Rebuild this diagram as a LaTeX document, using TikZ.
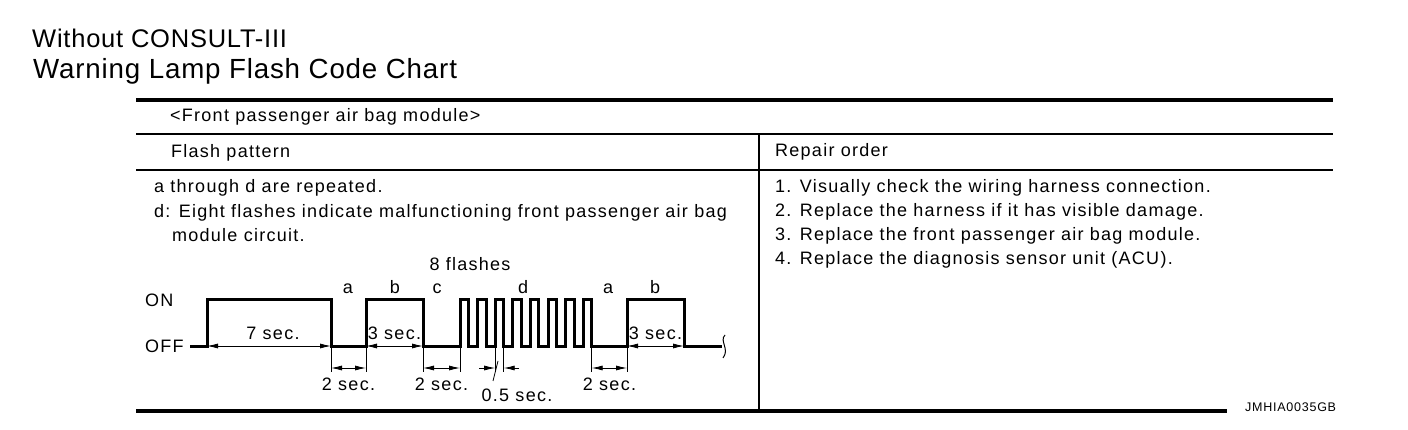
\documentclass[tikz,border=0pt]{standalone}
\usepackage{fontspec}
\setmainfont{Liberation Sans}
\newfontfamily\lsfont{Liberation Sans}[LetterSpace=7]
\newfontfamily\idfont{Liberation Sans}[LetterSpace=6]
\newfontfamily\titlefont{Liberation Sans}[LetterSpace=3]
\usetikzlibrary{arrows.meta}
\tikzset{
  thickrule/.style={line width=3.5pt},
  midrule/.style={line width=2.5pt},
  thinrule/.style={line width=1.2pt},
  wave/.style={line width=3pt, line join=miter},
  txt/.style={inner sep=0pt, anchor=base west, font={\lsfont\fontsize{18}{21}\selectfont}},
  wl/.style={inner sep=0pt, anchor=base, font={\lsfont\fontsize{18}{21}\selectfont}},
  ttl/.style={inner sep=0pt, anchor=base west, font={\titlefont\fontsize{25.5}{30}\selectfont}},
  ttlb/.style={inner sep=0pt, anchor=base west, font={\titlefont\fontsize{27.7}{32}\selectfont}},
  idtxt/.style={inner sep=0pt, anchor=base west, font={\idfont\fontsize{12.5}{15}\selectfont}},
  dimline/.style={line width=0.8pt, {Latex[length=11pt,width=5pt]}-{Latex[length=11pt,width=5pt]}},
  onearrow/.style={line width=0.8pt, -{Latex[length=11pt,width=5pt]}},
  tickline/.style={line width=0.8pt}
}
\begin{document}
\begin{tikzpicture}[x=1pt,y=-1pt]
\useasboundingbox (0,0) rectangle (1408,430);
% titles
\node[ttl] (t1) at (32,48) {Without CONSULT-III};
\node[ttlb] (t2) at (33,78.5) {Warning Lamp Flash Code Chart};
% table rules
\draw[thickrule] (136,100) -- (1333,100);
\draw[midrule] (136,134) -- (1333,134);
\draw[thinrule] (136,170) -- (1333,170);
\draw[thickrule] (136,411) -- (1227,411);
\draw[line width=2pt] (759,134) -- (759,411);
% table texts
\node[txt] (hdr) at (170,122) {<Front passenger air bag module>};
\node[txt] (fp) at (171,158) {Flash pattern};
\node[txt] (ro) at (775,157) {Repair order};
\node[txt] (l1) at (154,193) {a through d are repeated.};
\node[txt] (l2) at (154,218) {d: Eight flashes indicate malfunctioning front passenger air bag};
\node[txt] (l3) at (172,242) {module circuit.};
\node[txt] (r1) at (775,193) {1. Visually check the wiring harness connection.};
\node[txt] (r2) at (775,217) {2. Replace the harness if it has visible damage.};
\node[txt] (r3) at (775,241) {3. Replace the front passenger air bag module.};
\node[txt] (r4) at (775,265) {4. Replace the diagnosis sensor unit (ACU).};
\node[idtxt] (id) at (1245,411) {JMHIA0035GB};
% waveform labels
\node[txt] (on) at (145,306) {ON};
\node[txt] (off) at (145,352) {OFF};
\node[wl] (fl) at (470,271) {8 flashes};
\node[wl] (la1) at (348,294) {a};
\node[wl] (lb1) at (395,294) {b};
\node[wl] (lc) at (437,294) {c};
\node[wl] (ld) at (523,294) {d};
\node[wl] (la2) at (608,294) {a};
\node[wl] (lb2) at (655,294) {b};
% waveform
\coordinate (w0) at (190,346);
\coordinate (r1w) at (207,346);
\coordinate (f1w) at (331,346);
\coordinate (r2w) at (366,346);
\coordinate (f2w) at (423,346);
\coordinate (r3w) at (460,346);
\coordinate (f3w) at (591.7,346);
\coordinate (r4w) at (627,346);
\coordinate (f4w) at (684,346);
\coordinate (wend) at (722,346);
\coordinate (p3r) at (495.2,346);
\coordinate (p3f) at (503.7,346);
\draw[wave] (w0) -- (r1w) -- (207,300) -- (331,300) -- (f1w) -- (r2w) -- (366,300) -- (423,300) -- (f2w) -- (r3w)
  \foreach \i in {0,...,7} { -- ({460+17.6*\i},346) -- ({460+17.6*\i},300) -- ({468.5+17.6*\i},300) -- ({468.5+17.6*\i},346) }
  -- (r4w) -- (627,300) -- (684,300) -- (f4w) -- (wend);
% break mark
\draw[line width=1pt] (725,335) .. controls (719,341) and (730,349) .. (723,358);
% on-line dimensions
\draw[dimline] (r1w) -- (f1w);
\draw[dimline] (r2w) -- (f2w);
\draw[dimline] (r4w) -- (f4w);
\node[wl] (s7) at (273,339) {7 sec.};
\node[wl] (s3a) at (394.5,339) {3 sec.};
\node[wl] (s3b) at (655.5,339) {3 sec.};
% 2 sec dimensions
\foreach \c in {f1w,r2w,f2w,r3w,f3w,r4w,p3r,p3f} { \draw[tickline] (\c) -- ++(0,26); }
\draw[dimline] ([yshift=-22pt]f1w) -- ([yshift=-22pt]r2w);
\draw[dimline] ([yshift=-22pt]f2w) -- ([yshift=-22pt]r3w);
\draw[dimline] ([yshift=-22pt]f3w) -- ([yshift=-22pt]r4w);
\node[wl] (s2a) at (348.5,390) {2 sec.};
\node[wl] (s2b) at (441.5,390) {2 sec.};
\node[wl] (s2c) at (609.5,390) {2 sec.};
% 0.5 sec
\coordinate (h1) at (479,368);
\coordinate (h2) at (519,368);
\draw[onearrow] (h1) -- ([yshift=-22pt]p3r);
\draw[onearrow] (h2) -- ([yshift=-22pt]p3f);
\node[wl] (s05) at (517,401) {0.5 sec.};
\coordinate (sl1) at (498,361);
\coordinate (sl2) at (493,381);
\draw[tickline] (sl1) -- (sl2);
\end{tikzpicture}
\end{document}
